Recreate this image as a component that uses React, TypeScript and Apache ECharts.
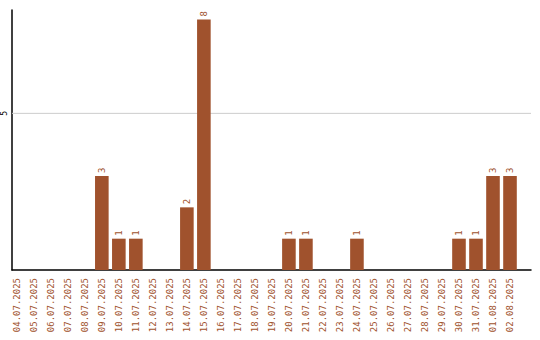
import React, { useEffect, useRef } from "react";
import * as echarts from "echarts";

const dates = [
  "04.07.2025", "05.07.2025", "06.07.2025", "07.07.2025", "08.07.2025",
  "09.07.2025", "10.07.2025", "11.07.2025", "12.07.2025", "13.07.2025",
  "14.07.2025", "15.07.2025", "16.07.2025", "17.07.2025", "18.07.2025",
  "19.07.2025", "20.07.2025", "21.07.2025", "22.07.2025", "23.07.2025",
  "24.07.2025", "25.07.2025", "26.07.2025", "27.07.2025", "28.07.2025",
  "29.07.2025", "30.07.2025", "31.07.2025", "01.08.2025", "02.08.2025",
];

const counts = [
  0, 0, 0, 0, 0,
  3, 1, 1, 0, 0,
  2, 8, 0, 0, 0,
  0, 1, 1, 0, 0,
  1, 0, 0, 0, 0,
  0, 1, 1, 3, 3,
];

const yTicks = [5];
const yMax = 8.3;

const BAR = "#A0522D";
const FONT = "DejaVu Sans Mono";

export default function App() {
  const ref = useRef<HTMLDivElement>(null);

  useEffect(() => {
    if (!ref.current) return;
    const chart = echarts.init(ref.current, null, { renderer: "svg" });

    // horizontal guide lines spanning the full axis frame
    const guides = yTicks.map((v) => ({
      type: "line",
      xAxisIndex: 1,
      yAxisIndex: 1,
      data: [[0, v], [1, v]],
      showSymbol: false,
      silent: true,
      lineStyle: { color: "#cccccc", width: 1 },
      z: 0,
    }));

    chart.setOption({
      animation: false,
      grid: [
        { left: 8.3, right: 21.5, top: 10, bottom: 70 },
        { left: 11, right: 9, top: 10, bottom: 70 },
      ],
      xAxis: [
        {
          type: "category",
          gridIndex: 0,
          data: dates,
          axisLine: { show: false },
          axisTick: { show: false },
          axisLabel: {
            interval: 0,
            rotate: 90,
            margin: 8,
            color: BAR,
            fontFamily: FONT,
            fontSize: 9,
          },
        },
        {
          type: "value",
          gridIndex: 1,
          min: 0,
          max: 1,
          axisLine: { show: true, lineStyle: { color: "#000", width: 1.5 } },
          axisTick: { show: false },
          axisLabel: { show: false },
          splitLine: { show: false },
        },
      ],
      yAxis: [
        {
          type: "value",
          gridIndex: 0,
          min: 0,
          max: yMax,
          show: false,
        },
        {
          type: "value",
          gridIndex: 1,
          min: 0,
          max: yMax,
          interval: 5,
          axisLine: { show: true, lineStyle: { color: "#000", width: 1.5 } },
          axisTick: { show: false },
          splitLine: { show: false },
          axisLabel: {
            rotate: 90,
            margin: 4,
            color: "#000",
            fontFamily: FONT,
            fontSize: 8,
            formatter: (v: number) => (yTicks.includes(v) ? String(v) : ""),
          },
        },
      ],
      series: [
        ...guides,
        {
          type: "bar",
          xAxisIndex: 0,
          yAxisIndex: 0,
          data: counts,
          barWidth: "80%",
          itemStyle: { color: BAR },
          label: {
            show: true,
            position: "top",
            distance: 3,
            rotate: 90,
            align: "left",
            verticalAlign: "middle",
            color: BAR,
            fontFamily: FONT,
            fontSize: 9,
            formatter: (p: any) => (p.value > 0 ? String(p.value) : ""),
          },
          z: 2,
        },
      ],
    });
    return () => chart.dispose();
  }, []);

  return (
    <div
      ref={ref}
      style={{ position: "fixed", left: 0, top: 0, width: 540, height: 340, background: "#fff" }}
    />
  );
}
